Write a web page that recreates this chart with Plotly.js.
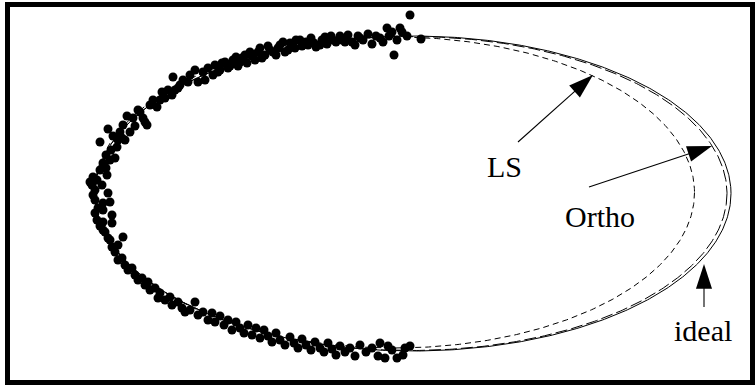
<!DOCTYPE html>
<html>
<head>
<meta charset="utf-8">
<script src="https://cdn.plot.ly/plotly-3.0.1.min.js"></script>
<style>
  html, body { margin: 0; padding: 0; background: #fff; }
  #chart { width: 756px; height: 385px; }
</style>
</head>
<body>
<div id="chart"></div>
<script>
// Drawing units: x to the right, y downward (the y axis is reversed).

// Noisy samples measured along the left half of the contour
const sampleX = [
  410, 387, 392, 402, 407, 421, 380, 394, 400, 397, 389, 383, 376, 372, 368, 363, 358, 352, 348, 342,
  336, 331, 327, 322, 316, 311, 306, 302, 296, 292, 288, 283, 278, 273, 268, 262, 258, 252, 245, 240,
  236, 230, 225, 220, 215, 205, 203, 190, 183, 178, 168, 162, 160, 150, 143, 140, 360, 355, 345, 340,
  333, 325, 320, 314, 308, 300, 295, 290, 285, 280, 276, 270, 265, 260, 255, 250, 247, 242, 238, 233,
  228, 222, 218, 213, 208, 198, 195, 188, 180, 175, 173, 172, 165, 157, 153, 147, 145, 138, 135, 133,
  130, 127, 125, 123, 120, 122, 118, 117, 115, 113, 111, 108, 106, 110, 104, 100,
  103, 93, 107, 102, 108, 95, 103, 110, 103, 97, 103, 112, 112, 103, 110, 123, 118, 112, 92, 95,
  93, 98, 95, 97, 100, 106, 90, 105, 100, 108,
  115, 118, 122, 125, 128, 132, 135, 138, 142, 145, 150, 148, 155, 160, 158, 165, 170, 172, 178, 182, 185,
  190, 195, 198, 203, 208, 212, 215, 220, 224, 228, 232, 236, 240, 244, 248, 252, 256, 260, 264, 268,
  272, 276, 280, 285, 290, 294, 298, 302, 306, 311, 315, 320, 324, 328, 332, 336, 340, 345, 350, 355,
  360, 366, 372, 378, 380, 385, 397, 403, 410, 405, 392, 388
];
const sampleY = [
  15, 28, 32, 32, 36, 39, 38, 55, 28, 40, 36, 42, 36, 44, 34, 40, 36, 42, 35, 40,
  42, 36, 44, 40, 47, 38, 42, 46, 40, 44, 50, 42, 48, 52, 46, 58, 52, 56, 55, 62,
  57, 66, 62, 70, 65, 80, 72, 75, 80, 88, 90, 92, 100, 105, 118, 112, 38, 45, 42, 36,
  40, 37, 45, 43, 45, 40, 48, 43, 52, 45, 55, 50, 55, 48, 60, 52, 63, 58, 66, 60,
  68, 63, 72, 75, 68, 82, 70, 82, 85, 90, 77, 95, 98, 107, 100, 125, 122, 110, 126, 118,
  132, 116, 140, 125, 132, 138, 140, 147, 158, 136, 150, 129, 155, 160, 165, 142,
  163, 177, 175, 185, 193, 200, 203, 202, 210, 220, 222, 215, 223, 230, 240, 237, 245, 247, 185, 190,
  195, 208, 213, 180, 170, 168, 182, 232, 226, 238,
  252, 260, 258, 265, 270, 268, 275, 280, 278, 285, 290, 282, 288, 293, 298, 300, 297, 305, 302, 308, 312,
  310, 302, 315, 312, 320, 313, 322, 316, 325, 320, 330, 322, 328, 333, 325, 335, 328, 338, 330, 336,
  342, 333, 340, 345, 337, 343, 348, 339, 345, 350, 342, 348, 352, 343, 349, 355, 346, 352, 348, 356,
  345, 352, 348, 356, 343, 358, 358, 355, 346, 348, 350, 346
];

// Ellipses: the true contour and the two fits
const curveNames = ['ideal', 'Ortho', 'LS'];
const centerX = [413, 411, 394.5];
const centerY = [193.5, 193.5, 192.5];
const semiAxisX = [318, 316, 300];
const semiAxisY = [157.5, 157, 155.5];
const curveDash = ['solid', '12px,4px', '6px,4px'];

// Callout labels and their arrows (tail -> tip)
const labelText = ['LS', 'Ortho', 'ideal'];
const labelX = [504, 600, 703];
const labelY = [166, 216, 330];
const arrowTailX = [518, 589, 704];
const arrowTailY = [142, 187, 307];
const arrowTipX = [593, 712, 704];
const arrowTipY = [75, 146, 264];

function ellipsePath(i) {
  const xs = [], ys = [];
  const n = 720;
  for (let k = 0; k <= n; k++) {
    const t = 2 * Math.PI * k / n;
    xs.push(centerX[i] + semiAxisX[i] * Math.cos(t));
    ys.push(centerY[i] + semiAxisY[i] * Math.sin(t));
  }
  return { xs, ys };
}

const traces = [];

curveNames.forEach((name, i) => {
  const p = ellipsePath(i);
  traces.push({
    type: 'scatter', mode: 'lines', name: name,
    x: p.xs, y: p.ys,
    line: { color: '#000', width: 1, dash: curveDash[i] },
    hoverinfo: 'skip'
  });
});

traces.push({
  type: 'scatter', mode: 'markers', name: 'samples',
  x: sampleX, y: sampleY,
  marker: { color: '#000', size: 9, opacity: 1, line: { width: 0 } },
  hoverinfo: 'skip'
});

labelText.forEach((t, i) => {
  traces.push({
    type: 'scatter', mode: 'lines+markers',
    x: [arrowTailX[i], arrowTipX[i]],
    y: [arrowTailY[i], arrowTipY[i]],
    line: { color: '#000', width: 1.1 },
    marker: {
      symbol: 'arrow', angleref: 'previous', size: [0, 26],
      color: '#000', opacity: 1, line: { width: 0 }
    },
    hoverinfo: 'skip'
  });
});

const annotations = labelText.map((t, i) => ({
  x: labelX[i], y: labelY[i], xref: 'x', yref: 'y',
  text: t, showarrow: false,
  xanchor: 'center', yanchor: 'middle',
  font: { family: '"Liberation Serif", "Times New Roman", serif', size: 30, color: '#000' }
}));

const layout = {
  width: 756, height: 385,
  margin: { l: 0, r: 0, t: 0, b: 0 },
  paper_bgcolor: '#fff', plot_bgcolor: '#fff',
  showlegend: false,
  xaxis: { range: [0, 756], visible: false, fixedrange: true },
  yaxis: { range: [385, 0], visible: false, fixedrange: true },
  annotations: annotations,
  shapes: [{
    type: 'rect', xref: 'x', yref: 'y',
    x0: 7.5, x1: 752.5, y0: 4.5, y1: 382.5,
    line: { color: '#000', width: 5 }, layer: 'above'
  }]
};

Plotly.newPlot('chart', traces, layout, { staticPlot: true, displayModeBar: false });
</script>
</body>
</html>
